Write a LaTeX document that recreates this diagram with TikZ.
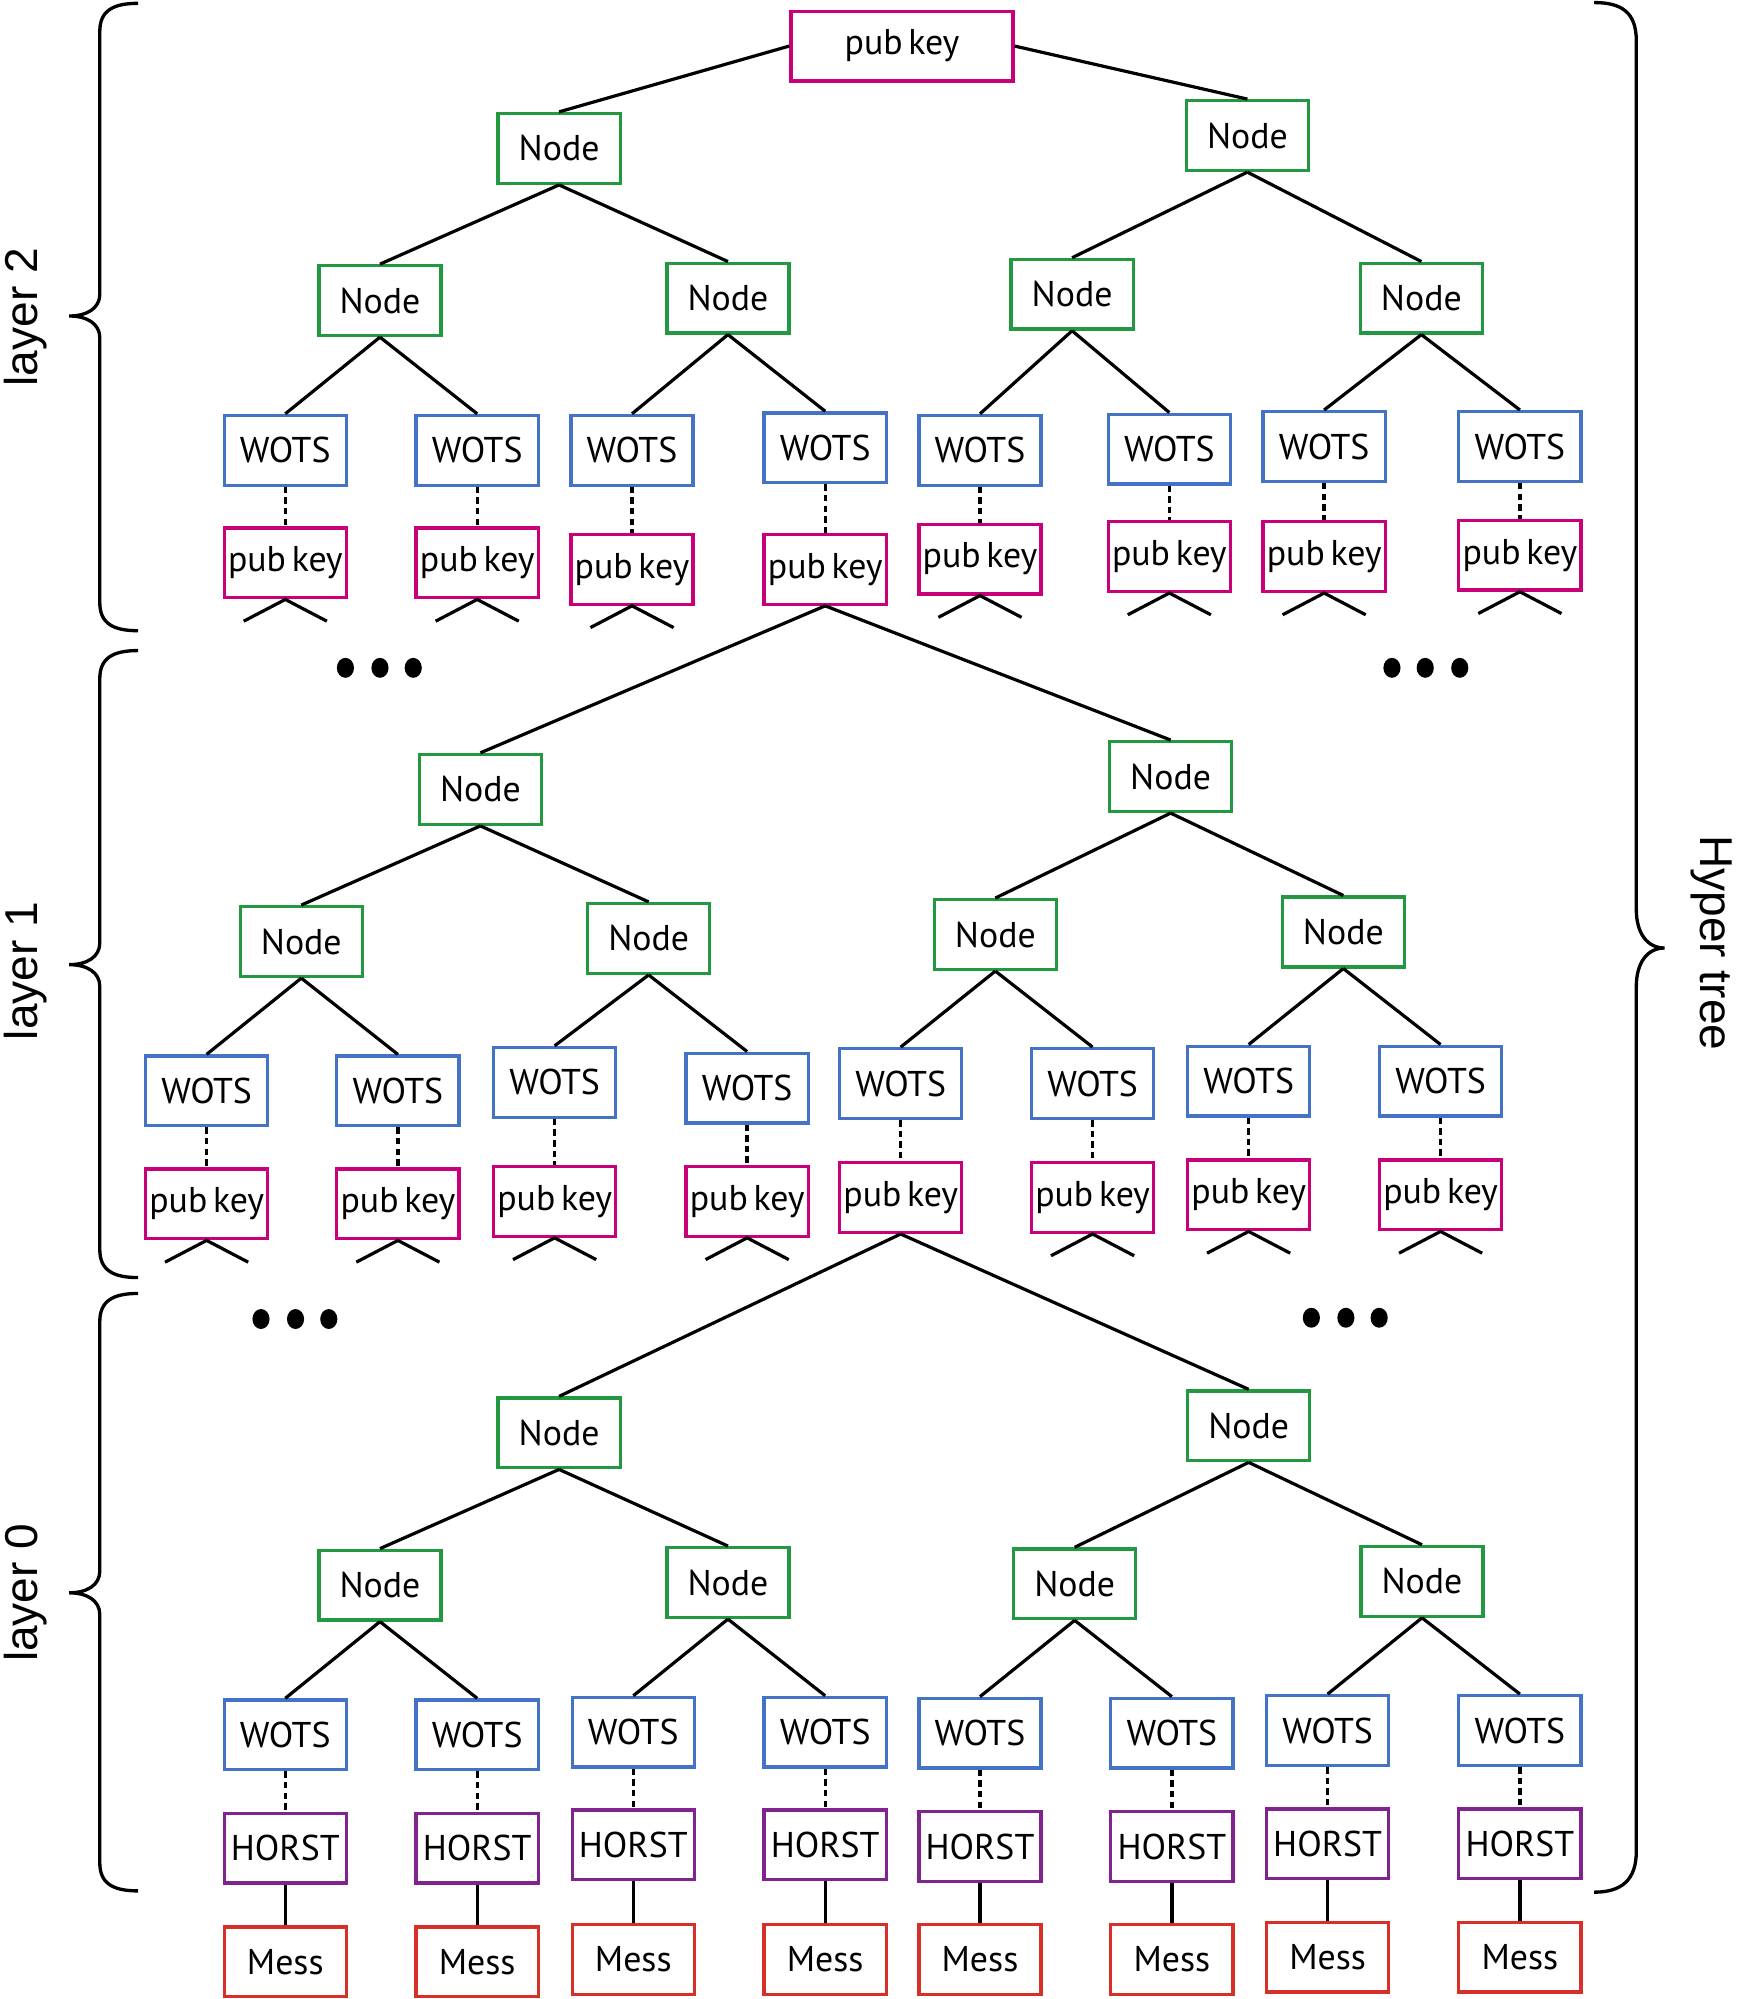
\documentclass[tikz,border=0pt]{standalone}
\usepackage{fontspec}
\setmainfont{PT Sans}
\newfontfamily\labelfont{Liberation Sans}
\usetikzlibrary{calc}
\definecolor{cgreen}{RGB}{34,152,64}
\definecolor{cblue}{RGB}{68,114,196}
\definecolor{cmag}{RGB}{200,0,122}
\definecolor{cpurple}{RGB}{126,36,140}
\definecolor{cred}{RGB}{216,48,40}
\newcommand\boxfont{\fontsize{28}{32}\selectfont}
\newcommand\pubkey{{\spaceskip=0.16em\relax pub key}}
\newcommand\layerbrace[3]{%
  \draw[brc] (108,#1) .. controls (88,#1) and (78,{#1+6}) .. (78,{#1+22})
    -- (78,{#2-17}) .. controls (78,{#2-6}) and (68,#2) .. (54,#2)
    .. controls (68,#2) and (78,{#2+6}) .. (78,{#2+17})
    -- (78,{#3-22}) .. controls (78,{#3-6}) and (88,#3) .. (108,#3);}
\begin{document}
\begin{tikzpicture}[x=1pt,y=-1pt,
  box/.style={draw, line width=2.6pt, rectangle, inner sep=0pt,
    minimum width=95.5pt, minimum height=54.5pt, font=\boxfont},
  nd/.style={box, draw=cgreen},
  wt/.style={box, draw=cblue},
  pk/.style={box, draw=cmag},
  hs/.style={box, draw=cpurple},
  ms/.style={box, draw=cred},
  conn/.style={line width=2.5pt, black},
  dotc/.style={line width=2.6pt, black, dash pattern=on 5pt off 3.3pt},
  brc/.style={line width=2.6pt, black},
  lab/.style={font=\labelfont\fontsize{36}{40}\selectfont, inner sep=0pt},
  dotmark/.style={black}]
\useasboundingbox (0,0) rectangle (1360,1562.5);

% ---------------- layer 2 ----------------
\node[pk, minimum width=173.5pt] (root) at (705,36) {\pubkey};
\node[nd] (n2a) at (437,116) {Node};
\node[nd] (n2b) at (975,106) {Node};
\node[nd] (n2aa) at (297,235) {Node};
\node[nd] (n2ab) at (569,233) {Node};
\node[nd] (n2ba) at (838,230) {Node};
\node[nd] (n2bb) at (1111,233) {Node};
\draw[conn] (root.west) -- (n2a.north);
\draw[conn] (root.east) -- (n2b.north);
\draw[conn] (n2a.south) -- (n2aa.north);
\draw[conn] (n2a.south) -- (n2ab.north);
\draw[conn] (n2b.south) -- (n2ba.north);
\draw[conn] (n2b.south) -- (n2bb.north);
\foreach \i/\x/\wy/\py in {1/223/352/440, 2/373/352/440, 3/494/352/445, 4/645/350/445,
                           5/766/352/437, 6/914/351/435, 7/1035/349/435, 8/1188/349/434} {
  \node[wt] (w2\i) at (\x,\wy) {WOTS};
  \node[pk] (p2\i) at (\x,\py) {\pubkey};
  \draw[dotc] (w2\i.south) -- (p2\i.north);
}
\draw[conn] (n2aa.south) -- (w21.north);
\draw[conn] (n2aa.south) -- (w22.north);
\draw[conn] (n2ab.south) -- (w23.north);
\draw[conn] (n2ab.south) -- (w24.north);
\draw[conn] (n2ba.south) -- (w25.north);
\draw[conn] (n2ba.south) -- (w26.north);
\draw[conn] (n2bb.south) -- (w27.north);
\draw[conn] (n2bb.south) -- (w28.north);
\foreach \i in {1,2,3,5,6,7,8} {
  \coordinate (t2l\i) at ($(p2\i.south)+(-32.5,17)$);
  \coordinate (t2r\i) at ($(p2\i.south)+(32.5,17)$);
  \draw[conn] (t2l\i) -- (p2\i.south) -- (t2r\i);
}

% ---------------- layer 1 ----------------
\node[nd] (n1a) at (375.5,617) {Node};
\node[nd] (n1b) at (915,607) {Node};
\node[nd] (n1aa) at (235.5,736) {Node};
\node[nd] (n1ab) at (507,733.5) {Node};
\node[nd] (n1ba) at (778,730.5) {Node};
\node[nd] (n1bb) at (1050,728.5) {Node};
\draw[conn] (p24.south) -- (n1a.north);
\draw[conn] (p24.south) -- (n1b.north);
\draw[conn] (n1a.south) -- (n1aa.north);
\draw[conn] (n1a.south) -- (n1ab.north);
\draw[conn] (n1b.south) -- (n1ba.north);
\draw[conn] (n1b.south) -- (n1bb.north);
\foreach \i/\x/\wy/\py in {1/161.5/852.7/941, 2/311/852.7/941, 3/433.5/846/939, 4/584/850.5/939,
                           5/704/847/936, 6/854/847/936, 7/976/845/934, 8/1126/845/934} {
  \node[wt] (w1\i) at (\x,\wy) {WOTS};
  \node[pk] (p1\i) at (\x,\py) {\pubkey};
  \draw[dotc] (w1\i.south) -- (p1\i.north);
}
\draw[conn] (n1aa.south) -- (w11.north);
\draw[conn] (n1aa.south) -- (w12.north);
\draw[conn] (n1ab.south) -- (w13.north);
\draw[conn] (n1ab.south) -- (w14.north);
\draw[conn] (n1ba.south) -- (w15.north);
\draw[conn] (n1ba.south) -- (w16.north);
\draw[conn] (n1bb.south) -- (w17.north);
\draw[conn] (n1bb.south) -- (w18.north);
\foreach \i in {1,2,3,4,6,7,8} {
  \coordinate (t1l\i) at ($(p1\i.south)+(-32.5,17)$);
  \coordinate (t1r\i) at ($(p1\i.south)+(32.5,17)$);
  \draw[conn] (t1l\i) -- (p1\i.south) -- (t1r\i);
}

% ---------------- layer 0 ----------------
\node[nd] (n0a) at (437,1120) {Node};
\node[nd] (n0b) at (976,1114.5) {Node};
\node[nd] (n0aa) at (297,1239) {Node};
\node[nd] (n0ab) at (569,1237) {Node};
\node[nd] (n0ba) at (840,1238) {Node};
\node[nd] (n0bb) at (1111.5,1236) {Node};
\draw[conn] (p15.south) -- (n0a.north);
\draw[conn] (p15.south) -- (n0b.north);
\draw[conn] (n0a.south) -- (n0aa.north);
\draw[conn] (n0a.south) -- (n0ab.north);
\draw[conn] (n0b.south) -- (n0ba.north);
\draw[conn] (n0b.south) -- (n0bb.north);
\foreach \i/\x/\wy/\hy/\my in {1/223/1356/1444.5/1533.5, 2/373/1356/1444.5/1533.5,
                               3/495/1354/1442/1531.5, 4/645/1354/1442/1531.5,
                               5/766/1354.7/1443.4/1531.7, 6/916/1354.7/1443.4/1531.7,
                               7/1037.7/1352.7/1441.3/1529.7, 8/1188/1352.7/1441.3/1529.7} {
  \node[wt] (w0\i) at (\x,\wy) {WOTS};
  \node[hs] (h0\i) at (\x,\hy) {HORST};
  \node[ms] (m0\i) at (\x,\my) {Mess};
  \draw[dotc] (w0\i.south) -- (h0\i.north);
  \draw[conn] (h0\i.south) -- (m0\i.north);
}
\draw[conn] (n0aa.south) -- (w01.north);
\draw[conn] (n0aa.south) -- (w02.north);
\draw[conn] (n0ab.south) -- (w03.north);
\draw[conn] (n0ab.south) -- (w04.north);
\draw[conn] (n0ba.south) -- (w05.north);
\draw[conn] (n0ba.south) -- (w06.north);
\draw[conn] (n0bb.south) -- (w07.north);
\draw[conn] (n0bb.south) -- (w08.north);

% ---------------- ellipses ----------------
\foreach \x/\y in {270/522, 297/522, 323/522, 1088/522, 1114/522, 1141/522,
                   204/1031, 231/1031, 257/1031, 1025/1030, 1052/1030, 1078/1030} {
  \fill[dotmark] (\x,\y) ellipse [x radius=6.7pt, y radius=7.8pt];
}

% ---------------- braces and labels ----------------
\layerbrace{2.6}{247}{493}
\layerbrace{508.5}{754}{998.6}
\layerbrace{1011}{1245}{1478}
\draw[brc] (1246,2) .. controls (1268,2) and (1279,10) .. (1279,32)
  -- (1279,711) .. controls (1279,730) and (1288,741) .. (1301,741)
  .. controls (1288,741) and (1279,752) .. (1279,771)
  -- (1279,1447) .. controls (1279,1469) and (1268,1479) .. (1246,1479);
\node[lab, rotate=90] (lab2) at (20,248) {layer 2};
\node[lab, rotate=90] (lab1) at (20,759) {layer 1};
\node[lab, rotate=90] (lab0) at (20,1245) {layer 0};
\node[lab, rotate=-90] (labh) at (1338,737) {Hyper tree};
\end{tikzpicture}
\end{document}
